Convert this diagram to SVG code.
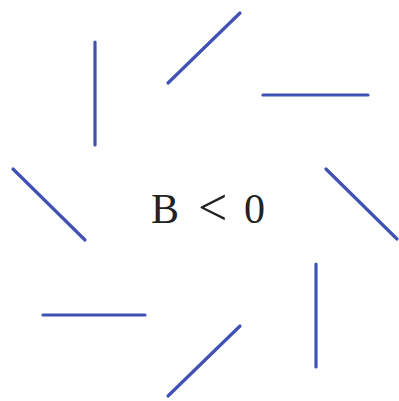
<svg xmlns="http://www.w3.org/2000/svg" width="399" height="401" viewBox="0 0 399 401">
<style>
.s{stroke:#3f51b5;stroke-width:3.2;stroke-linecap:round;fill:none}
.t{font-family:"Liberation Serif","DejaVu Serif",serif;font-size:42px;fill:#222}
</style>
<rect width="399" height="401" fill="#fff"/>
<g id="connectors">
<line class="s" x1="95" y1="42" x2="95" y2="145"/>
<line class="s" x1="168" y1="83" x2="240" y2="13"/>
<line class="s" x1="263" y1="95" x2="368" y2="95"/>
<line class="s" x1="13" y1="169" x2="85" y2="240"/>
<line class="s" x1="326" y1="169" x2="397" y2="239"/>
<line class="s" x1="43" y1="315" x2="145" y2="315"/>
<line class="s" x1="316" y1="264" x2="316" y2="367"/>
<line class="s" x1="168" y1="396" x2="240" y2="326"/>
</g>
<g id="label">
<text class="t" x="151" y="223">B</text>
<text class="t" x="198" y="225" style="font-size:52px">&lt;</text>
<text class="t" x="244" y="223">0</text>
</g>
</svg>
